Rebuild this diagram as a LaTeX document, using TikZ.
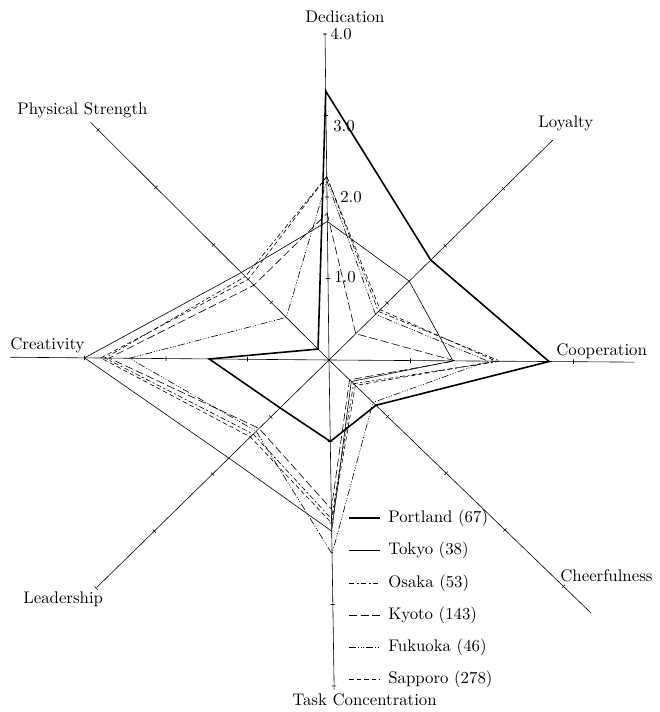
\documentclass[tikz,border=0pt]{standalone}
\usetikzlibrary{calc}
\begin{document}
\begin{tikzpicture}[x=1pt,y=1pt,
  lbl/.style={font=\fontsize{10}{12}\selectfont, inner sep=0pt, scale=1.68, transform shape},
  axisline/.style={line width=0.6pt},
  portland/.style={line width=1.6pt, line join=miter},
  tokyo/.style={line width=0.6pt},
  osaka/.style={line width=0.6pt, dash pattern=on 5pt off 2.5pt on 2pt off 2.5pt},
  kyoto/.style={line width=0.6pt, dash pattern=on 8pt off 3.5pt},
  fukuoka/.style={line width=0.6pt, dash pattern=on 7pt off 2pt on 1pt off 1.5pt on 1pt off 1.5pt on 1pt off 2pt},
  sapporo/.style={line width=0.6pt, dash pattern=on 4.5pt off 3pt},
]
\useasboundingbox (0,0) rectangle (659,712);
\coordinate (C) at (329,352);
\def\u{81.5pt}
% axes with ticks
\foreach \nm/\ang/\len in {ded/90.7/4.01, loy/44.5/3.85, coop/-0.4/3.75, cheer/-44/4.47, task/-89.1/4.05, lead/-135.6/3.99, creat/179.5/3.91, phys/135.1/4.13} {
  \coordinate (\nm) at ($(C)+(\ang:\len*\u)$);
  \draw[axisline] (C) -- (\nm);
  \foreach \k in {1,2,3,4} {
    \pgfmathtruncatemacro\ok{\k<=\len+0.02 ? 1 : 0}
    \ifnum\ok=1
      \draw[axisline] ($(C)+(\ang:\k*\u)+(\ang+90:2.2pt)$) -- ($(C)+(\ang:\k*\u)+(\ang-90:2.2pt)$);
    \fi
  }
}
% data
\newcommand{\radar}[9]{%
  \foreach \v/\a [count=\i] in {#2/90.7,#3/44.5,#4/-0.4,#5/-44,#6/-89.1,#7/-135.6,#8/179.5,#9/135.1} {
    \coordinate (#1-\i) at ($(C)+(\a:\v*\u)$);
  }%
}
\newcommand{\poly}[2]{\draw[#2] (#1-1) -- (#1-2) -- (#1-3) -- (#1-4) -- (#1-5) -- (#1-6) -- (#1-7) -- (#1-8) -- cycle;}
%            Ded  Loy  Coop Cheer Task Lead Creat Phys
\radar{por}{3.3}{1.75}{2.7}{0.8}{1.0}{0.84}{1.47}{0.19}
\radar{tok}{1.7}{1.38}{1.52}{0.38}{2.1}{1.72}{3.0}{1.52}
\radar{osa}{2.25}{0.85}{2.1}{0.42}{1.95}{1.3}{2.75}{1.45}
\radar{kyo}{1.8}{0.46}{1.55}{0.35}{1.83}{1.2}{2.7}{1.3}
\radar{fuk}{2.2}{0.8}{1.95}{0.75}{2.38}{1.25}{2.45}{0.74}
\radar{sap}{2.25}{0.88}{2.05}{0.45}{2.0}{1.35}{2.8}{1.4}
\poly{tok}{tokyo}
\poly{osa}{osaka}
\poly{kyo}{kyoto}
\poly{fuk}{fukuoka}
\poly{sap}{sapporo}
\poly{por}{portland}
% axis labels
\node[lbl, anchor=base west] (lded) at (305,689) {Dedication};
\node[lbl, anchor=base west] (lphys) at (17,597) {Physical Strength};
\node[lbl, anchor=base west] (lloy) at (538,584) {Loyalty};
\node[lbl, anchor=base west] (lcoop) at (556,356) {Cooperation};
\node[lbl, anchor=base west] (lcheer) at (560,130) {Cheerfulness};
\node[lbl, anchor=base west] (llead) at (23,108) {Leadership};
\node[lbl, anchor=base west] (lcreat) at (10,362) {Creativity};
\node[lbl, anchor=base east] (ltask) at (437,6) {Task Concentration};
% scale numbers
\node[lbl, anchor=base west] (n4) at (330,672) {4.0};
\node[lbl, anchor=base west] (n3) at (333,580) {3.0};
\node[lbl, anchor=base west] (n2) at (340,509) {2.0};
\node[lbl, anchor=base west] (n1) at (334,429) {1.0};
% legend
\foreach \nm/\sty/\y/\txt in {gP/portland/194/Portland (67), gT/tokyo/162/Tokyo (38), gO/osaka/129/Osaka (53), gK/kyoto/97/Kyoto (143), gF/fukuoka/65/Fukuoka (46), gS/sapporo/33/Sapporo (278)} {
  \node[lbl, anchor=west] (\nm) at (388,\y) {\txt};
  \draw[\sty] ($(\nm.west)+(-39,0)$) -- ($(\nm.west)+(-8,0)$);
}
\end{tikzpicture}
\end{document}
